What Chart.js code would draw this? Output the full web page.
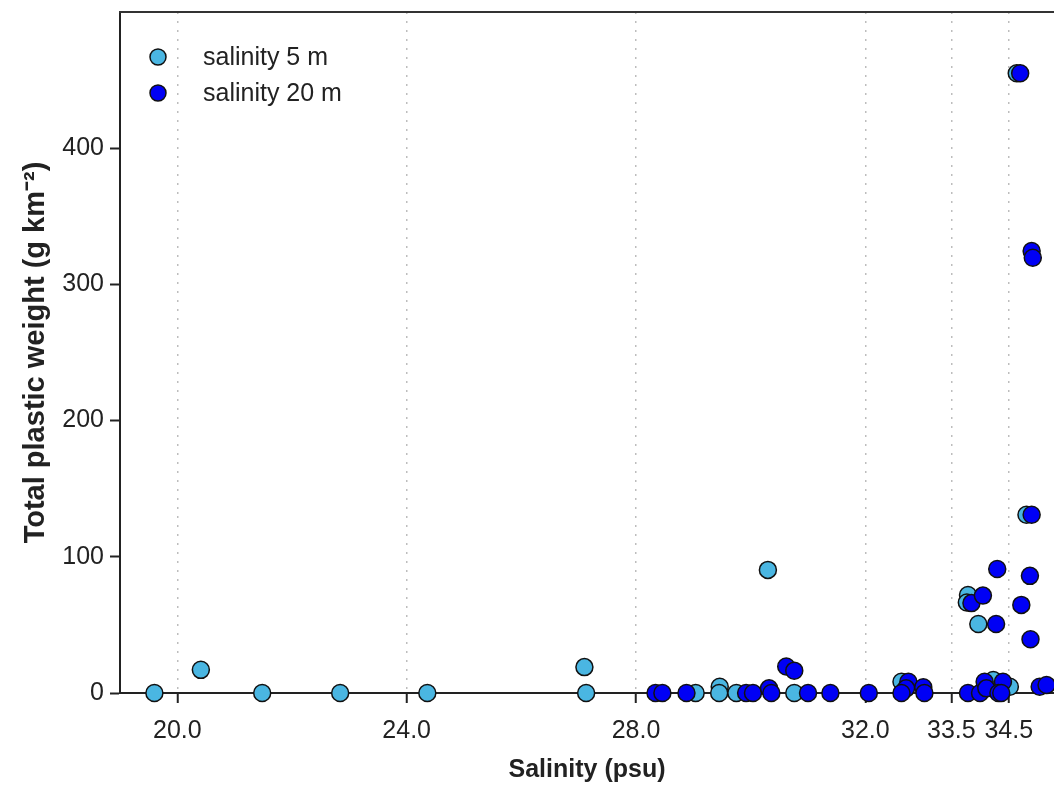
<!DOCTYPE html>
<html>
<head>
<meta charset="utf-8">
<script src="https://cdn.jsdelivr.net/npm/chart.js@4.4.1/dist/chart.umd.min.js"></script>
<style>
  body { margin: 0; background: #fff; }
  canvas { display: block; }
</style>
</head>
<body>
<canvas id="myChart" width="1054" height="787"></canvas>
<script>
// salinity 5 m
const sal5X = [19.6, 20.41, 21.48, 22.84, 24.36, 27.1, 27.13, 29.04, 29.46, 29.45, 29.75, 30.3, 30.76, 32.63, 33.79, 33.77, 33.97, 34.23, 34.52, 34.81, 34.64];
const sal5Y = [0, 17, 0, 0, 0, 19, 0, 0, 4.6, 0, 0, 90.4, 0, 8.3, 72, 66.4, 50.7, 9.6, 4.6, 130.9, 455];
// salinity 20 m
const sal20X = [28.34, 28.46, 28.88, 29.92, 30.04, 30.32, 30.36, 30.62, 30.76, 31.0, 31.39, 32.06, 32.75, 32.71, 32.63, 33.01, 33.03, 33.85, 34.05, 34.28, 34.3, 34.9, 34.87, 34.72, 34.88, 33.79, 34.0, 34.08, 34.11, 34.4, 34.32, 34.37, 35.04, 35.16, 34.7, 34.9, 34.92];
const sal20Y = [0, 0, 0, 0, 0, 3.4, 0, 19.4, 16.4, 0, 0, 0, 8.3, 3.4, 0, 4.2, 0, 66, 71.5, 50.7, 91, 130.9, 86, 64.7, 39.5, 0, 0, 8.3, 3.4, 8.3, 0, 0, 4.6, 5.9, 455, 324.5, 319.6];

const xTicks = [20, 24, 28, 32, 33.5, 34.5];
const yTicks = [0, 100, 200, 300, 400];
const seriesLabels = ["salinity 5 m", "salinity 20 m"];
const seriesColors = ["#4ab6e2", "#0000f5"];

const FONT = "'Liberation Sans', Arial, sans-serif";

function toPoints(xs, ys) {
  return xs.map((x, i) => ({ x: x, y: ys[i] }));
}

// top frame line and legend inside the plot
const framePlugin = {
  id: "frame",
  afterDraw(chart) {
    const ctx = chart.ctx;
    const area = chart.chartArea;
    ctx.save();
    ctx.strokeStyle = "#333";
    ctx.lineWidth = 2;
    ctx.beginPath();
    ctx.moveTo(area.left - 1, area.top);
    ctx.lineTo(area.right, area.top);
    ctx.stroke();

    ctx.font = "25px " + FONT;
    ctx.textBaseline = "middle";
    seriesLabels.forEach((label, i) => {
      const y = 57 + i * 36;
      ctx.beginPath();
      ctx.arc(158, y, 8, 0, Math.PI * 2);
      ctx.fillStyle = seriesColors[i];
      ctx.fill();
      ctx.lineWidth = 1.5;
      ctx.strokeStyle = "#111";
      ctx.stroke();
      ctx.fillStyle = "#222";
      ctx.fillText(label, 203, y + 1);
    });
    ctx.restore();
  },
};

const ctx = document.getElementById("myChart").getContext("2d");
new Chart(ctx, {
  type: "scatter",
  data: {
    datasets: [
      {
        label: seriesLabels[0],
        data: toPoints(sal5X, sal5Y),
        backgroundColor: seriesColors[0],
        borderColor: "#111",
        borderWidth: 1.5,
        pointRadius: 8.5,
        order: 1,
        clip: false,
      },
      {
        label: seriesLabels[1],
        data: toPoints(sal20X, sal20Y),
        backgroundColor: seriesColors[1],
        borderColor: "#111",
        borderWidth: 1.5,
        pointRadius: 8.5,
        order: 0,
        clip: false,
      },
    ],
  },
  options: {
    responsive: false,
    animation: false,
    layout: { autoPadding: false, padding: { top: 12, right: 0, left: 0, bottom: 0 } },
    plugins: {
      legend: { display: false },
      tooltip: { enabled: false },
    },
    scales: {
      x: {
        type: "linear",
        min: 19,
        max: 35.29,
        afterBuildTicks: (scale) => {
          scale.ticks = xTicks.map((v) => ({ value: v }));
        },
        afterFit: (scale) => {
          scale.height = 94;
          scale.paddingLeft = 0;
          scale.paddingRight = 0;
        },
        ticks: {
          autoSkip: false,
          maxRotation: 0,
          padding: 13,
          color: "#222",
          font: { family: FONT, size: 25 },
          callback: (v) => v.toFixed(1),
        },
        grid: {
          color: "#bdbdbd",
          lineWidth: 1.5,
          drawTicks: true,
          tickLength: 10,
          tickColor: "#222",
          tickWidth: 2,
          tickBorderDash: [],
        },
        border: { display: true, color: "#222", width: 2, dash: [2, 7] },
        title: {
          display: true,
          text: "Salinity (psu)",
          color: "#222",
          font: { family: FONT, size: 25, weight: "bold" },
          padding: { top: 0, bottom: 2 },
        },
      },
      y: {
        min: 0,
        max: 500,
        afterBuildTicks: (scale) => {
          scale.ticks = yTicks.map((v) => ({ value: v }));
        },
        afterFit: (scale) => {
          scale.width = 120;
          scale.paddingTop = 0;
          scale.paddingBottom = 0;
        },
        ticks: {
          padding: 6,
          color: "#222",
          font: { family: FONT, size: 25 },
          callback: (v) => String(v),
        },
        grid: {
          drawOnChartArea: false,
          drawTicks: true,
          tickLength: 10,
          tickColor: "#222",
          tickWidth: 2,
        },
        border: { display: true, color: "#222", width: 2 },
        title: {
          display: true,
          text: "Total plastic weight (g km\u207B\u00B2)",
          color: "#222",
          font: { family: FONT, size: 29, weight: "bold" },
          padding: { top: 19, bottom: 0 },
        },
      },
    },
  },
  plugins: [framePlugin],
});
</script>
</body>
</html>
